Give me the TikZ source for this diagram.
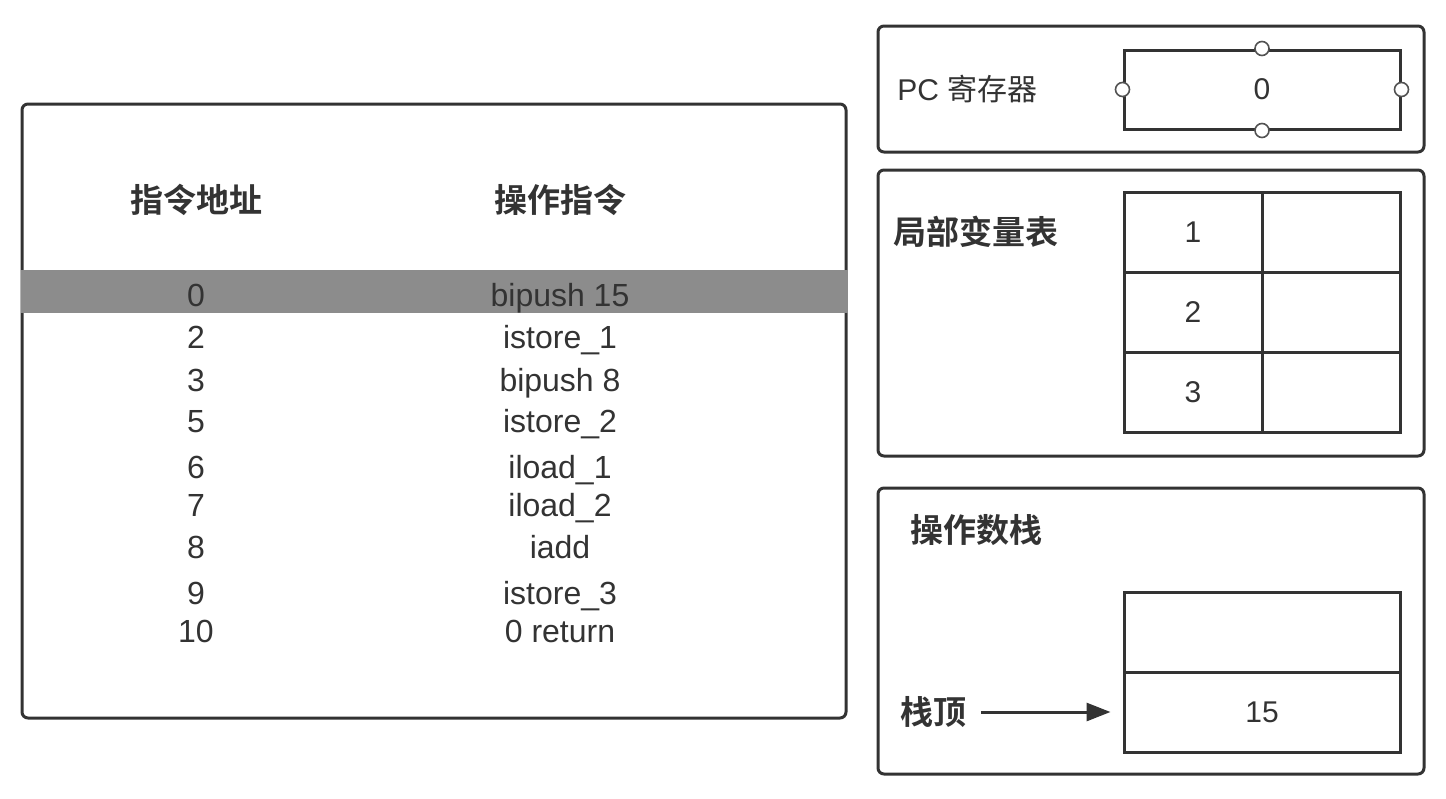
\documentclass[tikz,border=0pt]{standalone}
\usepackage{fontspec}
\setmainfont{Liberation Sans}
\newfontfamily\cjk{Noto Sans CJK SC}[BoldFont={Noto Sans CJK SC Bold}]
\usetikzlibrary{arrows.meta}
\definecolor{ink}{HTML}{333333}
\definecolor{band}{HTML}{8C8C8C}
\begin{document}
\begin{tikzpicture}[x=0.5pt,y=-0.5pt,
  panel/.style={draw=ink, line width=1.5pt, rounded corners=3pt},
  cellbox/.style={draw=ink, line width=1.5pt, inner sep=0pt, text=ink, font=\fontsize{15}{18}\selectfont},
  head/.style={inner sep=0pt, text=ink, font=\cjk\bfseries\fontsize{16.5}{20}\selectfont},
  lbl/.style={inner sep=0pt, text=ink, anchor=base, font=\fontsize{16}{19}\selectfont},
  handle/.style={circle, draw=ink!85, fill=white, line width=0.8pt, inner sep=0pt, minimum size=7pt},
  arr/.style={draw=ink, line width=1.5pt, -{Triangle[length=12pt,width=9pt]}}]
\useasboundingbox (0,0) rectangle (1446,798);
% instruction table panel
\draw[panel] (22,104) rectangle (846,718);
\fill[band] (21,270) rectangle (848,313);
\node[head] (h1) at (196,200) {指令地址};
\node[head] (h2) at (560,200) {操作指令};
\foreach \y/\a/\i [count=\k] in {295/0/bipush 15, 337/2/istore\_1, 380/3/bipush 8, 421/5/istore\_2, 467/6/iload\_1, 505/7/iload\_2, 547/8/iadd, 593/9/istore\_3, 631/10/0 return}{
  \node[lbl] (a\k) at (196,\y+11) {\a};
  \node[lbl] (i\k) at (560,\y+11) {\i};
}
% PC register
\draw[panel] (878,26) rectangle (1424,152);
\node[inner sep=0pt, text=ink, anchor=west, font=\fontsize{15}{18}\selectfont] (pcl) at (897,89) {PC \cjk 寄存器};
\node[cellbox, minimum width=138pt, minimum height=39.5pt] (pc) at (1262,89.5) {0};
\foreach \s in {north,south,east,west}{\node[handle] (pc-\s) at (pc.\s) {};}
% local variables
\draw[panel] (878,170) rectangle (1424,456);
\node[head, anchor=west] (lvt) at (893,232) {局部变量表};
\foreach \y/\n in {232/1,312/2,392/3}{
  \node[cellbox, minimum width=69pt, minimum height=40pt] (lv\n) at (1193,\y) {\n};
  \node[cellbox, minimum width=69pt, minimum height=40pt] (lw\n) at (1331,\y) {};
}
% operand stack
\draw[panel] (878,488) rectangle (1424,774);
\node[head, anchor=west] (ost) at (910,530) {操作数栈};
\node[cellbox, minimum width=138pt, minimum height=40pt] (s2) at (1262,632) {};
\node[cellbox, minimum width=138pt, minimum height=40pt] (s1) at (1262,712) {15};
\node[head, anchor=west, inner sep=0pt] (top) at (900,712) {栈顶};
\draw[arr, shorten <=7pt, shorten >=6pt] (top.east) -- (s1.west);
\end{tikzpicture}
\end{document}
